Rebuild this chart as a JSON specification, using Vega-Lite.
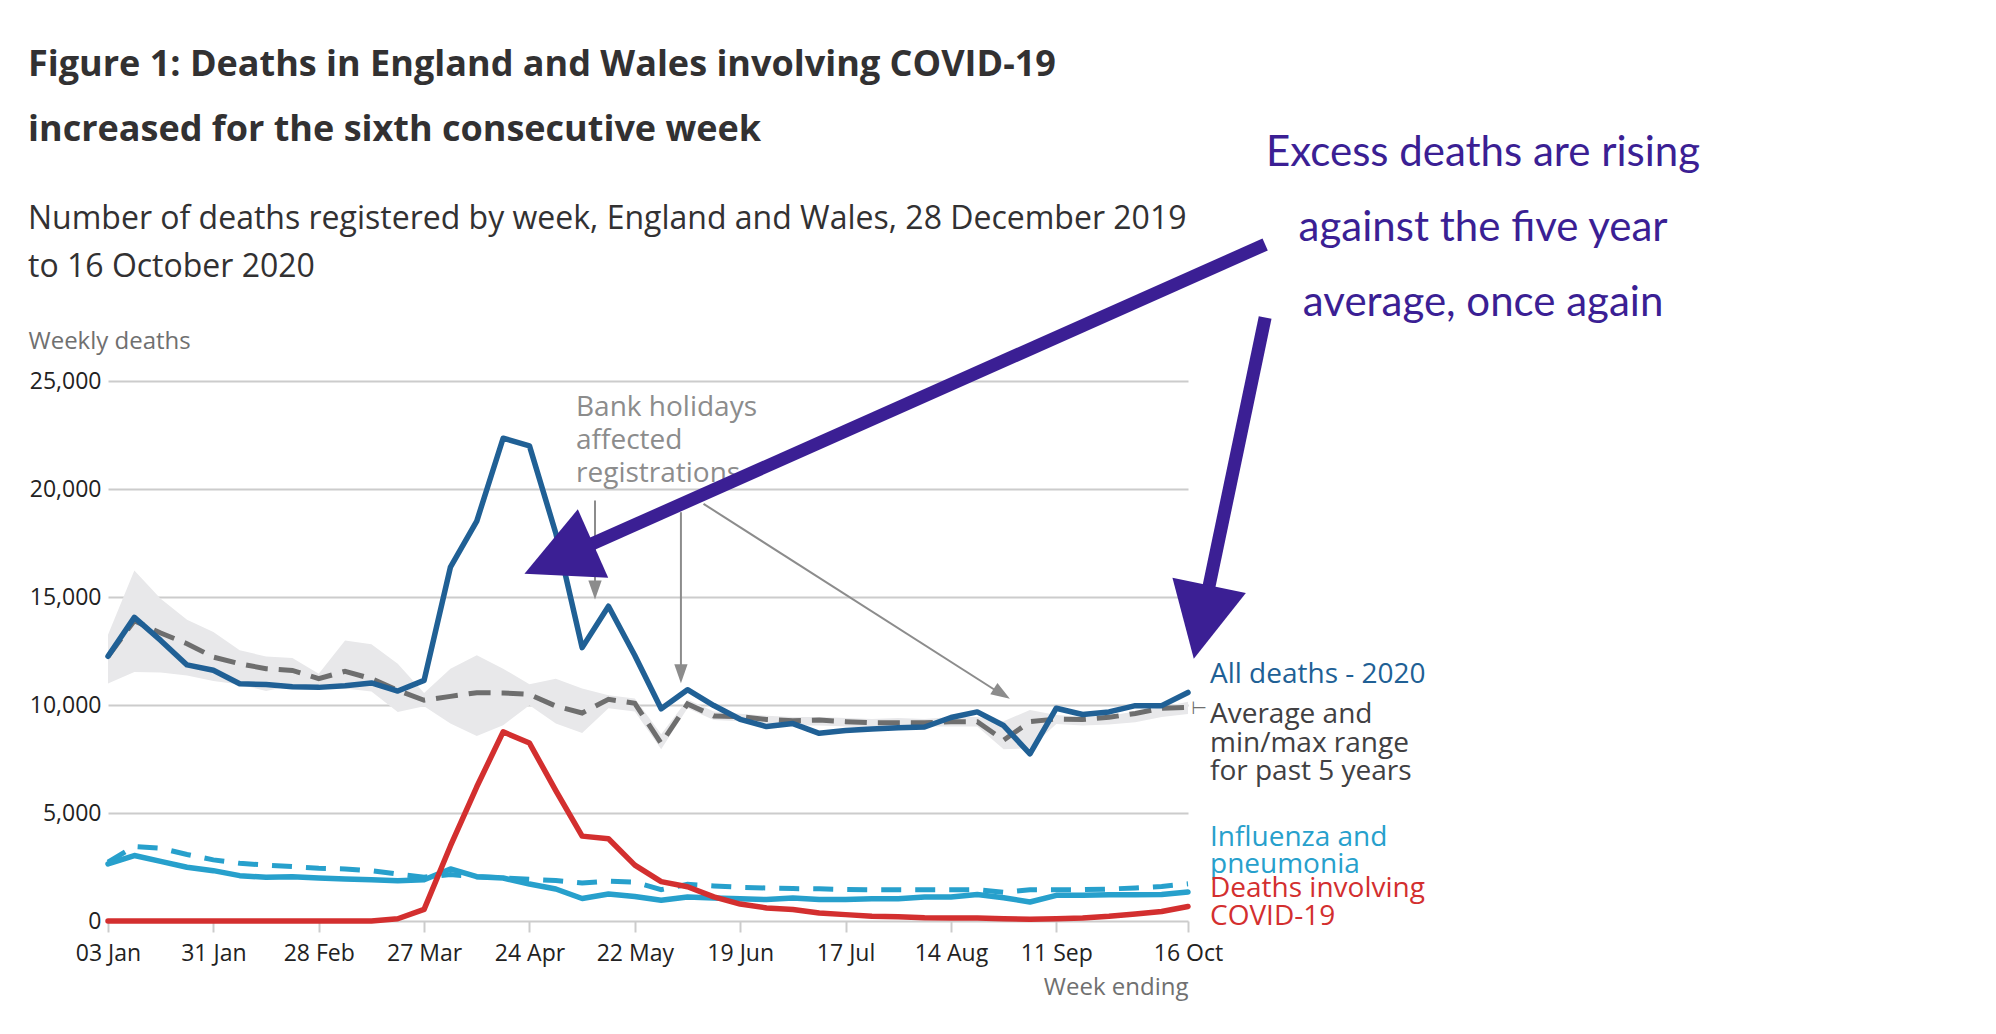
{
  "$schema": "https://vega.github.io/schema/vega-lite/v6.json",
  "autosize": "none",
  "width": 1080,
  "height": 540,
  "padding": {"left": 108, "top": 381, "right": 808, "bottom": 113},
  "background": "white",
  "title": {
    "text": ["Figure 1: Deaths in England and Wales involving COVID-19", "increased for the sixth consecutive week"],
    "subtitle": ["Number of deaths registered by week, England and Wales, 28 December 2019", "to 16 October 2020"],
    "anchor": "start",
    "frame": "group",
    "dx": -80,
    "offset": -152,
    "font": "Open Sans",
    "fontSize": 36,
    "fontWeight": "bold",
    "color": "#323132",
    "lineHeight": 65,
    "subtitleFont": "Open Sans",
    "subtitleFontSize": 32,
    "subtitleColor": "#323132",
    "subtitleLineHeight": 48,
    "subtitlePadding": 55
  },
  "datasets": {
    "weekly": [
      {"week": "2020-01-03", "all_deaths": 12254, "avg": 12250, "min": 11000, "max": 13250, "flu": 2640, "flu_avg": 2720, "covid": 0},
      {"week": "2020-01-10", "all_deaths": 14058, "avg": 13900, "min": 11530, "max": 16230, "flu": 3030, "flu_avg": 3450, "covid": 0},
      {"week": "2020-01-17", "all_deaths": 12990, "avg": 13330, "min": 11500, "max": 14920, "flu": 2760, "flu_avg": 3370, "covid": 0},
      {"week": "2020-01-24", "all_deaths": 11856, "avg": 12840, "min": 11370, "max": 13950, "flu": 2490, "flu_avg": 3080, "covid": 0},
      {"week": "2020-01-31", "all_deaths": 11612, "avg": 12220, "min": 11110, "max": 13380, "flu": 2330, "flu_avg": 2830, "covid": 0},
      {"week": "2020-02-07", "all_deaths": 10986, "avg": 11910, "min": 10950, "max": 12530, "flu": 2100, "flu_avg": 2670, "covid": 0},
      {"week": "2020-02-14", "all_deaths": 10944, "avg": 11680, "min": 10650, "max": 12250, "flu": 2020, "flu_avg": 2590, "covid": 0},
      {"week": "2020-02-21", "all_deaths": 10841, "avg": 11600, "min": 10900, "max": 12180, "flu": 2050, "flu_avg": 2520, "covid": 0},
      {"week": "2020-02-28", "all_deaths": 10816, "avg": 11220, "min": 10760, "max": 11450, "flu": 1990, "flu_avg": 2440, "covid": 0},
      {"week": "2020-03-06", "all_deaths": 10895, "avg": 11560, "min": 10760, "max": 12990, "flu": 1940, "flu_avg": 2410, "covid": 0},
      {"week": "2020-03-13", "all_deaths": 11019, "avg": 11220, "min": 10630, "max": 12810, "flu": 1910, "flu_avg": 2330, "covid": 5},
      {"week": "2020-03-20", "all_deaths": 10645, "avg": 10680, "min": 9680, "max": 11910, "flu": 1860, "flu_avg": 2170, "covid": 103},
      {"week": "2020-03-27", "all_deaths": 11141, "avg": 10220, "min": 9940, "max": 10560, "flu": 1910, "flu_avg": 2030, "covid": 539},
      {"week": "2020-04-03", "all_deaths": 16387, "avg": 10400, "min": 9140, "max": 11680, "flu": 2410, "flu_avg": 2150, "covid": 3475},
      {"week": "2020-04-10", "all_deaths": 18516, "avg": 10570, "min": 8570, "max": 12300, "flu": 2050, "flu_avg": 2050, "covid": 6213},
      {"week": "2020-04-17", "all_deaths": 22351, "avg": 10560, "min": 9060, "max": 11680, "flu": 1990, "flu_avg": 2000, "covid": 8758},
      {"week": "2020-04-24", "all_deaths": 21997, "avg": 10490, "min": 9990, "max": 10960, "flu": 1710, "flu_avg": 1930, "covid": 8237},
      {"week": "2020-05-01", "all_deaths": 17953, "avg": 9950, "min": 9140, "max": 11220, "flu": 1480, "flu_avg": 1870, "covid": 6035},
      {"week": "2020-05-08", "all_deaths": 12657, "avg": 9630, "min": 8700, "max": 10760, "flu": 1040, "flu_avg": 1760, "covid": 3930},
      {"week": "2020-05-15", "all_deaths": 14573, "avg": 10260, "min": 9850, "max": 10450, "flu": 1250, "flu_avg": 1850, "covid": 3810},
      {"week": "2020-05-22", "all_deaths": 12288, "avg": 10080, "min": 9700, "max": 10300, "flu": 1130, "flu_avg": 1800, "covid": 2589},
      {"week": "2020-05-29", "all_deaths": 9824, "avg": 8220, "min": 7950, "max": 8650, "flu": 960, "flu_avg": 1450, "covid": 1822},
      {"week": "2020-06-05", "all_deaths": 10709, "avg": 10050, "min": 9850, "max": 10250, "flu": 1110, "flu_avg": 1700, "covid": 1588},
      {"week": "2020-06-12", "all_deaths": 9976, "avg": 9490, "min": 9300, "max": 9700, "flu": 1060, "flu_avg": 1620, "covid": 1114},
      {"week": "2020-06-19", "all_deaths": 9339, "avg": 9460, "min": 9250, "max": 9600, "flu": 1030, "flu_avg": 1560, "covid": 783},
      {"week": "2020-06-26", "all_deaths": 9000, "avg": 9330, "min": 9150, "max": 9500, "flu": 990, "flu_avg": 1530, "covid": 606},
      {"week": "2020-07-03", "all_deaths": 9140, "avg": 9270, "min": 9050, "max": 9450, "flu": 1060, "flu_avg": 1500, "covid": 532},
      {"week": "2020-07-10", "all_deaths": 8690, "avg": 9300, "min": 9050, "max": 9450, "flu": 990, "flu_avg": 1490, "covid": 366},
      {"week": "2020-07-17", "all_deaths": 8823, "avg": 9230, "min": 9000, "max": 9400, "flu": 990, "flu_avg": 1460, "covid": 295},
      {"week": "2020-07-24", "all_deaths": 8891, "avg": 9180, "min": 8950, "max": 9350, "flu": 1030, "flu_avg": 1450, "covid": 217},
      {"week": "2020-07-31", "all_deaths": 8946, "avg": 9180, "min": 8950, "max": 9400, "flu": 1030, "flu_avg": 1450, "covid": 193},
      {"week": "2020-08-07", "all_deaths": 8980, "avg": 9180, "min": 9000, "max": 9350, "flu": 1110, "flu_avg": 1450, "covid": 152},
      {"week": "2020-08-14", "all_deaths": 9420, "avg": 9230, "min": 9000, "max": 9450, "flu": 1110, "flu_avg": 1450, "covid": 139},
      {"week": "2020-08-21", "all_deaths": 9680, "avg": 9230, "min": 9000, "max": 9450, "flu": 1230, "flu_avg": 1450, "covid": 138},
      {"week": "2020-08-28", "all_deaths": 9050, "avg": 8370, "min": 7950, "max": 9250, "flu": 1080, "flu_avg": 1330, "covid": 101},
      {"week": "2020-09-04", "all_deaths": 7739, "avg": 9230, "min": 8000, "max": 9770, "flu": 880, "flu_avg": 1450, "covid": 78},
      {"week": "2020-09-11", "all_deaths": 9850, "avg": 9350, "min": 9120, "max": 9540, "flu": 1190, "flu_avg": 1450, "covid": 99},
      {"week": "2020-09-18", "all_deaths": 9560, "avg": 9330, "min": 9050, "max": 9450, "flu": 1190, "flu_avg": 1450, "covid": 139},
      {"week": "2020-09-25", "all_deaths": 9680, "avg": 9430, "min": 9100, "max": 9500, "flu": 1220, "flu_avg": 1480, "covid": 215},
      {"week": "2020-10-02", "all_deaths": 9970, "avg": 9610, "min": 9200, "max": 9700, "flu": 1220, "flu_avg": 1530, "covid": 321},
      {"week": "2020-10-09", "all_deaths": 9970, "avg": 9850, "min": 9450, "max": 9900, "flu": 1230, "flu_avg": 1600, "covid": 438},
      {"week": "2020-10-16", "all_deaths": 10580, "avg": 9890, "min": 9580, "max": 10150, "flu": 1340, "flu_avg": 1720, "covid": 670}
    ]
  },
  "data": {"name": "weekly"},
  "encoding": {
    "x": {
      "field": "week",
      "type": "temporal",
      "scale": {
        "type": "utc",
        "nice": false,
        "domain": [
          {"year": 2020, "month": 1, "date": 3, "utc": true},
          {"year": 2020, "month": 10, "date": 16, "utc": true}
        ]
      },
      "axis": {
        "values": [
          {"year": 2020, "month": 1, "date": 3, "utc": true},
          {"year": 2020, "month": 1, "date": 31, "utc": true},
          {"year": 2020, "month": 2, "date": 28, "utc": true},
          {"year": 2020, "month": 3, "date": 27, "utc": true},
          {"year": 2020, "month": 4, "date": 24, "utc": true},
          {"year": 2020, "month": 5, "date": 22, "utc": true},
          {"year": 2020, "month": 6, "date": 19, "utc": true},
          {"year": 2020, "month": 7, "date": 17, "utc": true},
          {"year": 2020, "month": 8, "date": 14, "utc": true},
          {"year": 2020, "month": 9, "date": 11, "utc": true},
          {"year": 2020, "month": 10, "date": 16, "utc": true}
        ],
        "labelExpr": "utcFormat(datum.value, '%d %b')",
        "title": "Week ending",
        "titleAnchor": "end",
        "titleAlign": "right",
        "titleX": 1080,
        "titleY": 73,
        "titleBaseline": "alphabetic",
        "titleFont": "Open Sans",
        "titleFontSize": 24,
        "titleFontWeight": "normal",
        "titleColor": "#707070",
        "grid": false,
        "domain": false,
        "ticks": true,
        "tickColor": "#cccccc",
        "tickWidth": 2,
        "tickSize": 11,
        "labelFont": "Open Sans",
        "labelFontSize": 23,
        "labelColor": "#222222",
        "labelPadding": 28,
        "labelBaseline": "alphabetic",
        "labelOverlap": false,
        "labelFlush": false
      }
    }
  },
  "layer": [
    {
      "mark": {"type": "area", "color": "#e8e8ea", "opacity": 1},
      "encoding": {
        "y": {
          "field": "max",
          "type": "quantitative",
          "scale": {"domain": [0, 25000], "nice": false},
          "axis": {
            "title": "Weekly deaths",
            "values": [0, 5000, 10000, 15000, 20000, 25000],
            "labelExpr": "format(datum.value, ',')",
            "grid": true,
            "gridColor": "#cccccc",
            "gridWidth": 2,
            "domain": false,
            "ticks": false,
            "tickSize": 0,
            "labelPadding": 7,
            "labelFont": "Open Sans",
            "labelFontSize": 23,
            "labelColor": "#222222",
            "titleAngle": 0,
            "titleAlign": "left",
            "titleBaseline": "alphabetic",
            "titleX": -80,
            "titleY": -33,
            "titleFont": "Open Sans",
            "titleFontSize": 24,
            "titleFontWeight": "normal",
            "titleColor": "#707070"
          }
        },
        "y2": {"field": "min"}
      }
    },
    {
      "mark": {"type": "line", "color": "#27a0cc", "strokeWidth": 5, "strokeDash": [20, 14]},
      "encoding": {"y": {"field": "flu_avg", "type": "quantitative"}}
    },
    {
      "mark": {"type": "line", "color": "#27a0cc", "strokeWidth": 5.5, "strokeCap": "round", "strokeJoin": "round"},
      "encoding": {"y": {"field": "flu", "type": "quantitative"}}
    },
    {
      "mark": {"type": "line", "color": "#6e6e6e", "strokeWidth": 5, "strokeDash": [22, 11]},
      "encoding": {"y": {"field": "avg", "type": "quantitative"}}
    },
    {
      "mark": {"type": "line", "color": "#206095", "strokeWidth": 5.5, "strokeCap": "round", "strokeJoin": "round"},
      "encoding": {"y": {"field": "all_deaths", "type": "quantitative"}}
    },
    {
      "mark": {"type": "line", "color": "#d32f2f", "strokeWidth": 5.5, "strokeCap": "round", "strokeJoin": "round"},
      "encoding": {"y": {"field": "covid", "type": "quantitative"}}
    },
    {
      "data": {"values": [
        {"x": "2020-05-11T10:00:00Z", "y": 19468, "x2": "2020-05-11T10:00:00Z", "y2": 15440},
        {"x": "2020-06-03T06:00:00Z", "y": 18926, "x2": "2020-06-03T06:00:00Z", "y2": 11564},
        {"x": "2020-06-09T06:00:00Z", "y": 19313, "x2": "2020-08-26T08:00:00Z", "y2": 10625}
      ]},
      "mark": {"type": "rule", "color": "#8c8c8c", "strokeWidth": 2},
      "encoding": {
        "x": {"field": "x", "type": "temporal"},
        "x2": {"field": "x2"},
        "y": {"field": "y", "type": "quantitative"},
        "y2": {"field": "y2"}
      }
    },
    {
      "data": {"values": [
        {"x": "2020-05-11T10:00:00Z", "y": 14884},
        {"x": "2020-06-03T06:00:00Z", "y": 11009}
      ]},
      "mark": {"type": "point", "shape": "M-0.7,-2L0.7,-2L0,0Z", "size": 361, "filled": true, "opacity": 1, "color": "#8c8c8c", "strokeWidth": 0},
      "encoding": {
        "x": {"field": "x", "type": "temporal"},
        "y": {"field": "y", "type": "quantitative"}
      }
    },
    {
      "data": {"values": [{"x": "2020-08-29T16:00:00Z", "y": 10287}]},
      "mark": {"type": "point", "shape": "M-0.7,-2L0.7,-2L0,0Z", "size": 361, "angle": 302.5, "filled": true, "opacity": 1, "color": "#8c8c8c", "strokeWidth": 0},
      "encoding": {
        "x": {"field": "x", "type": "temporal"},
        "y": {"field": "y", "type": "quantitative"}
      }
    },
    {
      "data": {"values": [{"x": "2020-05-06T09:00:00Z", "y": 23370, "label": "Bank holidays\naffected\nregistrations"}]},
      "mark": {"type": "text", "align": "left", "baseline": "alphabetic", "lineBreak": "\n", "lineHeight": 33, "font": "Open Sans", "fontSize": 28, "color": "#8c8c8c"},
      "encoding": {
        "x": {"field": "x", "type": "temporal"},
        "y": {"field": "y", "type": "quantitative"},
        "text": {"field": "label"}
      }
    },
    {
      "data": {"values": [{"x": "2020-10-16", "y": 11009, "label": "All deaths - 2020"}]},
      "mark": {"type": "text", "align": "left", "baseline": "alphabetic", "dx": 22, "font": "Open Sans", "fontSize": 28, "color": "#206095"},
      "encoding": {
        "x": {"field": "x", "type": "temporal"},
        "y": {"field": "y", "type": "quantitative"},
        "text": {"field": "label"}
      }
    },
    {
      "data": {"values": [{"x": "2020-10-16", "y": 9157, "label": "Average and\nmin/max range\nfor past 5 years"}]},
      "mark": {"type": "text", "align": "left", "baseline": "alphabetic", "dx": 22, "lineBreak": "\n", "lineHeight": 28.5, "font": "Open Sans", "fontSize": 28, "color": "#414042"},
      "encoding": {
        "x": {"field": "x", "type": "temporal"},
        "y": {"field": "y", "type": "quantitative"},
        "text": {"field": "label"}
      }
    },
    {
      "data": {"values": [{"x": "2020-10-16", "y": 9800, "label": "⊢"}]},
      "mark": {"type": "text", "align": "left", "baseline": "middle", "dx": 3, "font": "DejaVu Sans", "fontSize": 18, "color": "#707070"},
      "encoding": {
        "x": {"field": "x", "type": "temporal"},
        "y": {"field": "y", "type": "quantitative"},
        "text": {"field": "label"}
      }
    },
    {
      "data": {"values": [{"x": "2020-10-16", "y": 3495, "label": "Influenza and\npneumonia"}]},
      "mark": {"type": "text", "align": "left", "baseline": "alphabetic", "dx": 22, "lineBreak": "\n", "lineHeight": 27, "font": "Open Sans", "fontSize": 28, "color": "#27a0cc"},
      "encoding": {
        "x": {"field": "x", "type": "temporal"},
        "y": {"field": "y", "type": "quantitative"},
        "text": {"field": "label"}
      }
    },
    {
      "data": {"values": [{"x": "2020-10-16", "y": 1102, "label": "Deaths involving\nCOVID-19"}]},
      "mark": {"type": "text", "align": "left", "baseline": "alphabetic", "dx": 22, "lineBreak": "\n", "lineHeight": 28, "font": "Open Sans", "fontSize": 28, "color": "#d32f2f"},
      "encoding": {
        "x": {"field": "x", "type": "temporal"},
        "y": {"field": "y", "type": "quantitative"},
        "text": {"field": "label"}
      }
    },
    {
      "data": {"values": [
        {"x": "2020-11-05T12:00:00Z", "y": 31319, "x2": "2020-05-06T01:00:00Z", "y2": 17106},
        {"x": "2020-11-05T12:00:00Z", "y": 27940, "x2": "2020-10-20T13:00:00Z", "y2": 14630}
      ]},
      "mark": {"type": "rule", "color": "#3b1f94", "strokeWidth": 13},
      "encoding": {
        "x": {"field": "x", "type": "temporal"},
        "x2": {"field": "x2"},
        "y": {"field": "y", "type": "quantitative"},
        "y2": {"field": "y2"}
      }
    },
    {
      "data": {"values": [{"x": "2020-04-22T16:00:00Z", "y": 16074}]},
      "mark": {"type": "point", "shape": "M-1,-2L1,-2L0,0Z", "size": 5625, "angle": 66.1, "filled": true, "opacity": 1, "color": "#3b1f94", "strokeWidth": 0},
      "encoding": {
        "x": {"field": "x", "type": "temporal"},
        "y": {"field": "y", "type": "quantitative"}
      }
    },
    {
      "data": {"values": [{"x": "2020-10-17T13:00:00Z", "y": 12139}]},
      "mark": {"type": "point", "shape": "M-1,-2L1,-2L0,0Z", "size": 5625, "angle": 11.8, "filled": true, "opacity": 1, "color": "#3b1f94", "strokeWidth": 0},
      "encoding": {
        "x": {"field": "x", "type": "temporal"},
        "y": {"field": "y", "type": "quantitative"}
      }
    },
    {
      "data": {"values": [{"x": "2021-01-02T10:00:00Z", "y": 34931, "label": "Excess deaths are rising\nagainst the five year\naverage, once again"}]},
      "mark": {"type": "text", "align": "center", "baseline": "alphabetic", "lineBreak": "\n", "lineHeight": 75, "font": "Lato", "fontSize": 42, "color": "#3b1f94"},
      "encoding": {
        "x": {"field": "x", "type": "temporal"},
        "y": {"field": "y", "type": "quantitative"},
        "text": {"field": "label"}
      }
    }
  ],
  "config": {
    "font": "Open Sans",
    "view": {"stroke": null}
  }
}
